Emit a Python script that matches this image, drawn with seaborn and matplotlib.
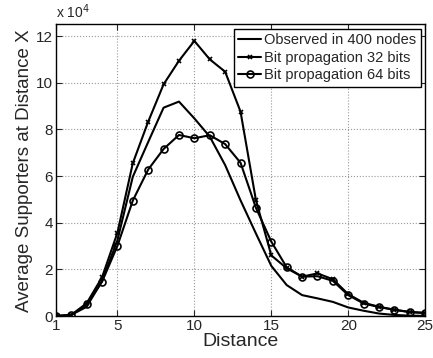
import numpy as np
import pandas as pd
import matplotlib
matplotlib.use('Agg')
import matplotlib.pyplot as plt
import seaborn as sns

# values in units of 1e4 supporters
distance = list(range(1, 26))
observed = [0, 0.05, 0.4, 1.5, 3.25, 5.97, 7.46, 8.93, 9.19, 8.47, 7.69, 6.47, 4.96,
            3.54, 2.15, 1.33, 0.9, 0.76, 0.61, 0.37, 0.23, 0.11, 0.05, 0.02, 0.01]
bits32 = [0, 0.05, 0.55, 1.66, 3.57, 6.55, 8.33, 9.93, 10.94, 11.79, 11.0, 10.47, 8.76,
          4.97, 2.6, 2.05, 1.69, 1.83, 1.58, 0.94, 0.57, 0.40, 0.27, 0.18, 0.14]
bits64 = [0, 0.05, 0.5, 1.47, 3.01, 4.95, 6.28, 7.16, 7.76, 7.62, 7.75, 7.37, 6.57,
          4.64, 3.19, 2.09, 1.69, 1.71, 1.51, 0.9, 0.54, 0.39, 0.27, 0.17, 0.13]
labels = ['Observed in 400 nodes', 'Bit propagation 32 bits', 'Bit propagation 64 bits']

sns.set_style('ticks')
plt.rcParams['font.family'] = ['Liberation Sans', 'DejaVu Sans']
plt.rcParams['xtick.direction'] = 'in'
plt.rcParams['ytick.direction'] = 'in'

fig = plt.figure(figsize=(4.33, 3.58), dpi=100)
ax = fig.add_axes([0.129, 0.117, 0.853, 0.815])

sns.lineplot(x=distance, y=observed, color='black', linewidth=1.5,
             label=labels[0], ax=ax)
sns.lineplot(x=distance, y=bits32, color='black', linewidth=1.5, marker='x',
             markersize=3.5, markeredgewidth=1.2, markeredgecolor='black',
             label=labels[1], ax=ax)
sns.lineplot(x=distance, y=bits64, color='black', linewidth=1.5, marker='o',
             markersize=5, markeredgewidth=1.2, markerfacecolor='none',
             markeredgecolor='black', label=labels[2], ax=ax)

ax.set_xlim(1, 25)
ax.set_ylim(0, 12.5)
ax.set_xticks([1, 5, 10, 15, 20, 25])
ax.set_yticks([0, 2, 4, 6, 8, 10, 12])
ax.tick_params(labelsize=11, top=True, right=True, length=4, width=0.8, pad=2)
ax.grid(True, linestyle=':', color='#999999', linewidth=0.8)
for s in ax.spines.values():
    s.set_linewidth(1.0)
    s.set_color('black')
ax.set_xlabel('Distance', fontsize=14, labelpad=0)
ax.set_ylabel('Average Supporters at Distance X', fontsize=13.5, labelpad=2)
ax.text(0.0, 1.01, r'x 10$^4$', transform=ax.transAxes, fontsize=10, va='bottom')

leg = ax.legend(loc='upper right', fontsize=10.5, frameon=True, fancybox=False,
                edgecolor='black', framealpha=1, borderpad=0.3, labelspacing=0.25,
                handlelength=1.6, handletextpad=0.2, borderaxespad=0.3)
leg.get_frame().set_linewidth(1.0)

fig.savefig('out.png', dpi=100)
